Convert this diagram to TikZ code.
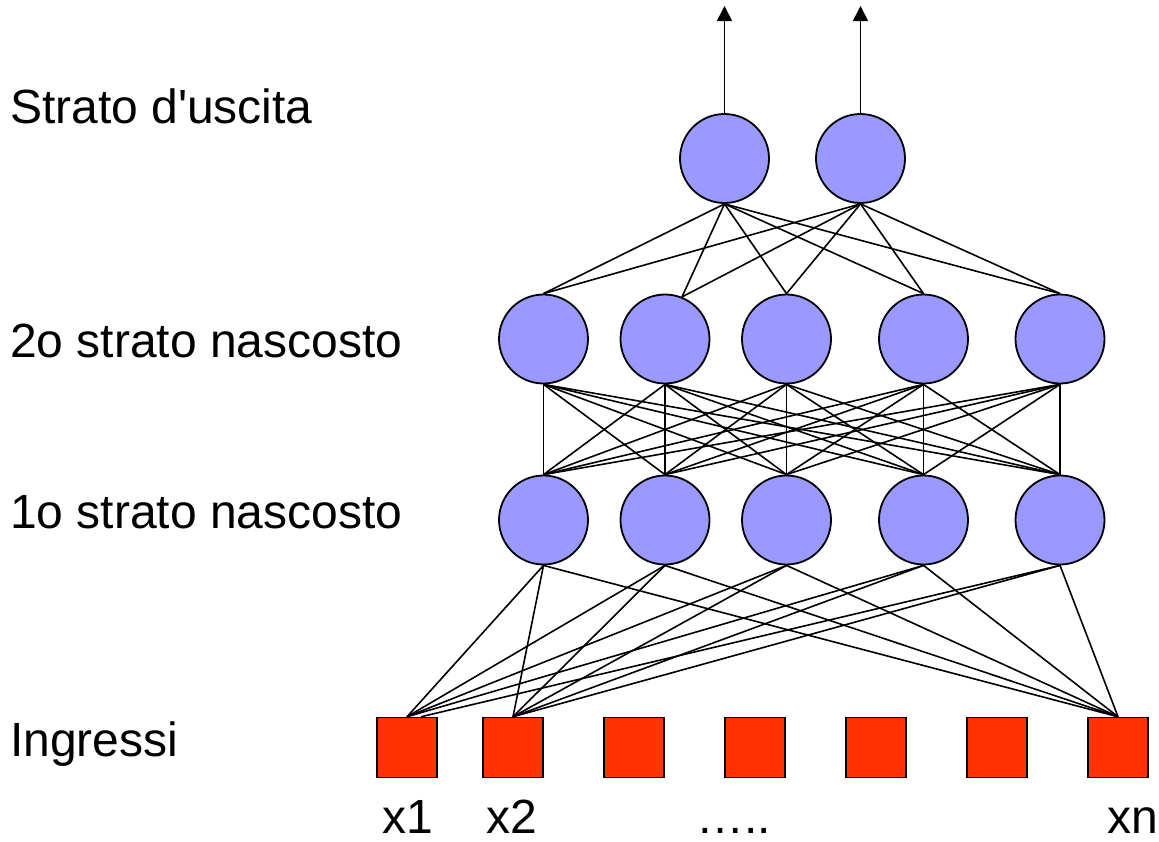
\documentclass[tikz,border=0pt]{standalone}
\usepackage{fontspec}
\setmainfont{Liberation Sans}
\usetikzlibrary{arrows.meta}

\definecolor{neuronfill}{HTML}{9999FF}
\definecolor{inputfill}{HTML}{FF3300}

\tikzset{
  neuron/.style={circle, draw=black, line width=1.8pt, fill=neuronfill,
                 inner sep=0pt, minimum size=89pt},
  inputbox/.style={rectangle, draw=black, line width=1.5pt, fill=inputfill,
                   inner sep=0pt, minimum width=60pt, minimum height=60pt},
  link/.style={draw=black, line width=1.6pt},
  outarrow/.style={draw=black, line width=1.7pt,
                   -{Triangle[length=15pt,width=15pt]}},
  label/.style={anchor=base west, inner sep=0pt, outer sep=0pt,
                font=\fontsize{48}{58}\selectfont}
}

\begin{document}
\begin{tikzpicture}[x=1pt,y=-1pt]
  \useasboundingbox (0,0) rectangle (1159,841);

  % layer labels
  \node[label] (lout) at (10,123) {Strato d\textquotesingle uscita};
  \node[label] (lh2)  at (10,357) {2o strato nascosto};
  \node[label] (lh1)  at (10,528) {1o strato nascosto};
  \node[label] (lin)  at (10,756) {Ingressi};

  % output layer
  \node[neuron] (o1) at (724.5,158.5) {};
  \node[neuron] (o2) at (860.5,158.5) {};

  % second hidden layer
  \foreach \n/\x in {a/543.5, b/665, c/786.5, d/923.5, e/1060}
    \node[neuron] (h2\n) at (\x,339) {};

  % first hidden layer
  \foreach \n/\x in {a/543.5, b/665, c/786.5, d/923.5, e/1060}
    \node[neuron] (h1\n) at (\x,520) {};

  % inputs
  \node[inputbox] (x1) at (407,747.5) {};
  \node[inputbox] (x2) at (513,747.5) {};
  \node[inputbox] (x3) at (634,747.5) {};
  \node[inputbox] (x4) at (755,747.5) {};
  \node[inputbox] (x5) at (876,747.5) {};
  \node[inputbox] (x6) at (997,747.5) {};
  \node[inputbox] (xn) at (1118,747.5) {};

  % input captions
  \node[label] (cx1) at (382,833) {x1};
  \node[label] (cx2) at (486,833) {x2};
  \node[label] (cdots) at (696,833) {…..};
  \node[label] (cxn) at (1107,833) {xn};

  % output arrows
  \coordinate (t1) at (724.5,6);
  \coordinate (t2) at (860.5,6);
  \draw[outarrow] (o1.north) -- (t1);
  \draw[outarrow] (o2.north) -- (t2);

  % output layer <- second hidden layer
  \foreach \o in {o1,o2}{
    \draw[link] (\o.south) -- (h2a.north);
    \draw[link] (\o.south) -- (h2b.68);
    \draw[link] (\o.south) -- (h2c.north);
    \draw[link] (\o.south) -- (h2d.north);
    \draw[link] (\o.south) -- (h2e.north);
  }

  % second hidden layer <- first hidden layer (fully connected)
  \foreach \a in {a,b,c,d,e}
    \foreach \b in {a,b,c,d,e}
      \draw[link] (h2\a.south) -- (h1\b.north);

  % first hidden layer <- inputs x1, x2, xn
  \foreach \b in {a,b,c,d}
    \draw[link] (h1\b.south) -- (x1.north);
  \draw[link] (h1e.south) -- ([xshift=14pt]x1.north);
  \foreach \b in {a,b,c,d,e}{
    \draw[link] (h1\b.south) -- (x2.north);
    \draw[link] (h1\b.south) -- (xn.north);
  }
\end{tikzpicture}
\end{document}
